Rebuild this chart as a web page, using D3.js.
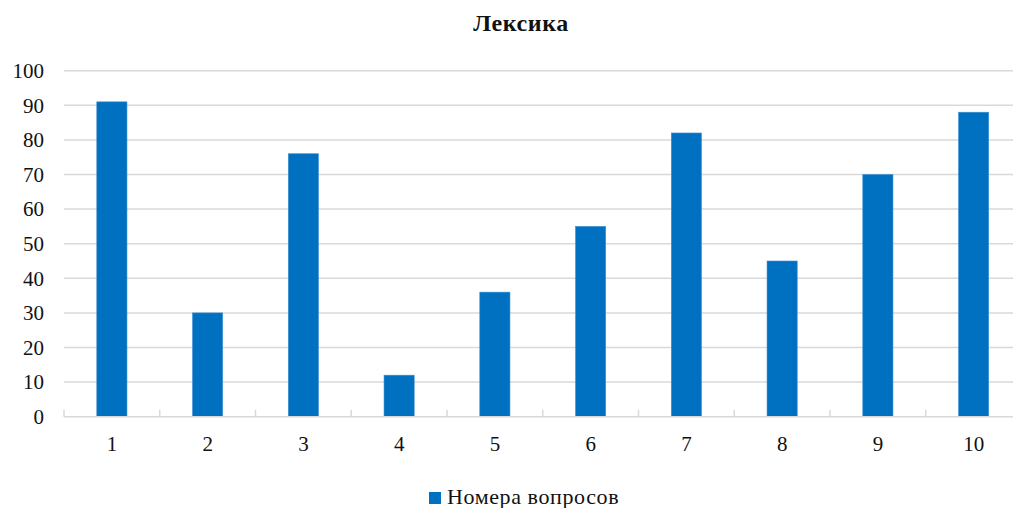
<!DOCTYPE html>
<html>
<head>
<meta charset="utf-8">
<script src="https://cdn.jsdelivr.net/npm/d3@7"></script>
<style>
  html, body { margin: 0; padding: 0; background: #fff; }
  svg { display: block; }
</style>
</head>
<body>
<script>
// Question numbers and share of correct answers
const categories = ["1", "2", "3", "4", "5", "6", "7", "8", "9", "10"];
const values = [91, 30, 76, 12, 36, 55, 82, 45, 70, 88];
const yTicks = [0, 10, 20, 30, 40, 50, 60, 70, 80, 90, 100];
const title = "Лексика";
const seriesName = "Номера вопросов";

const W = 1013, H = 508;
const font = "'Liberation Serif', 'Times New Roman', serif";
const barColor = "#0070C0";
const gridColor = "#d9d9d9";

const svg = d3.select("body").append("svg")
  .attr("width", W).attr("height", H);

const x = d3.scaleBand()
  .domain(categories)
  .range([64, 1021.5])
  .paddingInner(0.685)
  .paddingOuter(0.3425);

const y = d3.scaleLinear()
  .domain([0, 100])
  .range([416.7, 70.7]);

// Horizontal gridlines
svg.append("g")
  .selectAll("line")
  .data(yTicks.filter(d => d > 0))
  .join("line")
  .attr("x1", 64).attr("x2", 1021.5)
  .attr("y1", d => y(d)).attr("y2", d => y(d))
  .attr("stroke", gridColor).attr("stroke-width", 1.5);

// Y axis labels
const yAxis = svg.append("g")
  .attr("transform", "translate(44,0)")
  .call(d3.axisLeft(y).tickValues(yTicks).tickSize(0).tickPadding(0));
yAxis.select(".domain").remove();
yAxis.selectAll("text")
  .attr("font-family", font).attr("font-size", 21).attr("fill", "#111");

// Bars
svg.append("g")
  .selectAll("rect")
  .data(values)
  .join("rect")
  .attr("x", (d, i) => x(categories[i]))
  .attr("width", x.bandwidth())
  .attr("y", d => y(d))
  .attr("height", d => y(0) - y(d))
  .attr("fill", barColor)
  .attr("stroke", "#3c8fd0").attr("stroke-width", 0.6);

// Category axis line with boundary ticks
const bounds = d3.range(categories.length + 1).map(i => 64 + i * (957.5 / categories.length));
svg.append("line")
  .attr("x1", 64).attr("x2", 1021.5)
  .attr("y1", y(0)).attr("y2", y(0))
  .attr("stroke", gridColor).attr("stroke-width", 1.5);
svg.append("g")
  .selectAll("line")
  .data(bounds)
  .join("line")
  .attr("x1", d => d).attr("x2", d => d)
  .attr("y1", y(0) - 7).attr("y2", y(0))
  .attr("stroke", gridColor).attr("stroke-width", 1.5);

// Category labels
const xAxis = svg.append("g")
  .attr("transform", `translate(0,${y(0)})`)
  .call(d3.axisBottom(x).tickSize(0).tickPadding(19));
xAxis.select(".domain").remove();
xAxis.selectAll("text")
  .attr("font-family", font).attr("font-size", 21).attr("fill", "#111");

// Title
svg.append("text")
  .attr("x", 521).attr("y", 31)
  .attr("text-anchor", "middle")
  .attr("font-family", font).attr("font-size", 24).attr("font-weight", "bold")
  .attr("letter-spacing", 0.6)
  .attr("fill", "#111")
  .text(title);

// Legend
const legend = svg.append("g");
legend.append("rect")
  .attr("x", 429).attr("y", 492).attr("width", 12).attr("height", 12)
  .attr("fill", barColor);
legend.append("text")
  .attr("x", 447).attr("y", 504)
  .attr("font-family", font).attr("font-size", 22).attr("fill", "#111")
  .attr("letter-spacing", 0.6)
  .text(seriesName);
</script>
</body>
</html>
